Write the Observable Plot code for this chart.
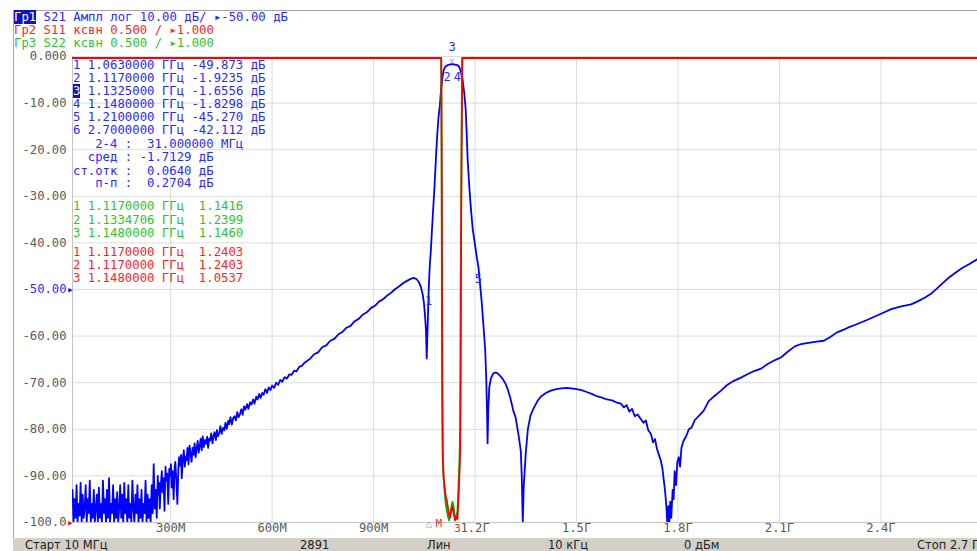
<!DOCTYPE html>
<html><head><meta charset="utf-8">
<script src="https://cdn.jsdelivr.net/npm/d3@7"></script>
<script src="https://cdn.jsdelivr.net/npm/@observablehq/plot@0.6"></script>
<style>
html,body{margin:0;padding:0;background:#fff;overflow:hidden;width:977px;height:551px}
#wrap{position:relative;width:977px;height:551px;overflow:hidden}
#wrap svg{position:absolute;left:0;top:0}
.mono{font-family:"DejaVu Sans Mono",monospace;font-size:12.3px;white-space:pre;position:absolute;line-height:14px;height:14px}
.hl{background:#1010c8;color:#fff}
#status{position:absolute;left:13px;top:538px;width:964px;height:13px;background:#d4d0c8;font-family:"DejaVu Sans",sans-serif;font-size:11.5px;color:#222}
#status span{position:absolute;top:0;line-height:14px;white-space:pre}
#frameL{position:absolute;left:13px;top:10px;width:1px;height:528px;background:#a8a8a8}
#frameT{position:absolute;left:13px;top:10px;width:964px;height:1px;background:#a8a8a8}
</style></head><body><div id="wrap"><div id="frameL"></div><div id="frameT"></div></div>
<script>
// ---- axis ticks ----
const xTicks = [300, 600, 900, 1200, 1500, 1800, 2100, 2400];
const xTickLabels = ["300М", "600М", "900М", "1.2Г", "1.5Г", "1.8Г", "2.1Г", "2.4Г"];
const yTicks = [0, -10, -20, -30, -40, -50, -60, -70, -80, -90, -100];
const yTickLabels = ["0.000", "-10.00", "-20.00", "-30.00", "-40.00", "-50.00", "-60.00", "-70.00", "-80.00", "-90.00", "-100.0"];

// ---- S21, [MHz, dB] ----
const s21 = [
[10,-93],[13,-100],[16,-95],[19,-99],[22,-92],[25,-100],[28,-96],[31,-98.5],[34,-91.5],[37,-100],[40,-94],[43,-99],[46,-97],[49,-92],[52,-100],[55,-95],[58,-98],[61,-91],[64,-100],[67,-96],[70,-99],[73,-93],[76,-100],[79,-97],[82,-94],[85,-100],[88,-92.5],[91,-99],[94,-96],[97,-100],[100,-91],[103,-98],[106,-95],[109,-100],[112,-93],[115,-99],[118,-90.5],[121,-100],[124,-96],[127,-98],[130,-92],[133,-100],[136,-95],[139,-99],[142,-93.5],[145,-100],[148,-97],[151,-92],[154,-99],[157,-94],[160,-100],[163,-91.5],[166,-98],[169,-95],[172,-100],[175,-92],[178,-99],[181,-96],[184,-100],[187,-91],[190,-97],[193,-100],[196,-94],[199,-98],[202,-92],[205,-100],[208,-95],[211,-99],[214,-93],[217,-100],[220,-96],[223,-98],[226,-91],[229,-100],[232,-94],[235,-99],[238,-95],[241,-100],[244,-92],[247,-98],
[250,-87.5],[253,-97],[256,-93],[259,-99],[262,-90],[264,-94],[266,-91.5],[268,-97],[271,-92],[274,-89],[276,-93.5],[279,-90.5],[282,-97.5],[285,-88],[287,-91],[290,-89.5],[293,-96],[296,-88.5],[298,-90],[301,-87.5],[303,-92.5],[306,-89],[309,-95],[312,-88],[314,-87],[317,-91],[320,-96],[323,-88.5],[325,-86],[328,-87.8],[331,-85.5],[333,-90.5],[336,-86.5],[339,-84.5],[342,-88],[345,-85.8],[347,-86.6],[350,-84],[353,-87.5],[356,-83.5],[359,-85.2],[362,-87],[365,-84],[368,-85.5],[371,-83],[374,-86],[377,-84.2],[380,-82.5],[383,-85],[386,-83.6],[389,-82],[392,-84.5],[395,-81.5],[398,-83.8],
[402,-82.3],[405,-83.1],[408,-81.6],[411,-84],[414,-82],[417,-82.4],[420,-80.9],[424,-83],[427,-81.4],[430,-80.6],[434,-82.3],[437,-80.2],[440,-81.5],[444,-80.8],[447,-79.3],[451,-81],[455,-79.7],[459,-80.2],[462,-78.6],[466,-79.9],[470,-78.2],[473,-78.9],[477,-77.4],[481,-79],[485,-77.6],[489,-77.2],[493,-78.1],[497,-76.3],[501,-77.4],[505,-76.8],[509,-75.7],[513,-76.9],[517,-75.1],[521,-75.8],[526,-74.6],[530,-75.6],[535,-74.2],[539,-74.7],[544,-73.6],[548,-74.5],[553,-73],[557,-73.6],[562,-72.4],[566,-73.3],[571,-72.2],[575,-72.6],[580,-71.4],[585,-72.2],[590,-71],[595,-71.6],[600,-70.6],[606,-71.1],[612,-70],[618,-70.5],[624,-69.4],[630,-69.8],[637,-68.8],[644,-69.1],[651,-68.2],[658,-68.3],[665,-67.4],[672,-67.6],[680,-66.6],[688,-66.4],[696,-65.7],[704,-65.3],[712,-64.9],[724,-63.9],[736,-63.5],[748,-62.4],[760,-62],[772,-61],[784,-60.6],[796,-59.6],[808,-59.1],[820,-58.2],[832,-57.8],[844,-56.8],[856,-56.3],[868,-55.4],[880,-54.9],[892,-54],[904,-53.5],[916,-52.6],[928,-52.1],[940,-51.3],[952,-50.7],[964,-49.9],[976,-49.3],[988,-48.6],[1000,-48.1],[1010,-47.7],[1018,-47.5],[1026,-47.7],[1034,-48.4],[1040,-49.5],[1045,-51],[1049,-53],[1052,-55.5],[1055,-59],[1057,-64.8],[1059,-60],[1061,-55],[1063,-49.873],[1066,-45],[1069,-42],[1072,-38],[1076,-33],[1080,-28],[1084,-22.3],[1088,-17],[1092,-13],[1096,-10.5],[1099,-7.5],[1103,-4.8],[1107,-3],[1112,-2.2],[1117,-1.9235],[1125,-1.72],[1132.5,-1.6556],[1140,-1.72],[1148,-1.8298],[1153,-2.2],[1158,-3.2],[1163,-5],[1168,-7.8],[1172,-11],[1175,-16],[1178,-22],[1183,-28],[1187,-32],[1193,-37],[1200,-40.5],[1205,-43],[1210,-45.27],[1215,-49],[1220,-53],[1225,-58],[1230,-63],[1233,-69],[1235,-75],[1237,-83],[1239,-76],[1242,-71],[1247,-69],[1254,-68],[1262,-67.8],[1270,-68.2],[1280,-69],[1290,-70.2],[1297,-71.5],[1305,-73.5],[1313,-76],[1320,-77.5],[1328,-81],[1335,-84.5],[1338,-90],[1341,-100],[1344,-92],[1350,-85],[1356,-80],[1364,-77],[1373,-75.5],[1384,-74],[1394,-73],[1409,-72.2],[1424,-71.7],[1440,-71.4],[1455,-71.2],[1470,-71.1],[1485,-71.2],[1500,-71.4],[1515,-71.6],[1530,-72],[1545,-72.4],[1560,-72.9],[1575,-73.2],[1590,-73.6],[1605,-73.8],[1620,-74.3],[1631,-74.5],[1640,-75.3],[1648,-74.8],[1656,-76.2],[1664,-75.6],[1672,-77.2],[1680,-76.8],[1690,-77.8],[1698,-78.6],[1705,-78.1],[1712,-80.2],[1720,-81],[1726,-82.8],[1732,-82.1],[1738,-84.3],[1744,-85.6],[1749,-86.7],[1754,-88.5],[1758,-91],[1762,-93.5],[1766,-97],[1768,-100],[1771,-96.5],[1774,-100],[1777,-95.5],[1780,-99],[1784,-93],[1787,-95],[1790,-89],[1794,-92],[1798,-87],[1802,-86],[1806,-88],[1810,-84],[1816,-82.5],[1824,-81.5],[1832,-80],[1840,-79.6],[1850,-78],[1860,-77.2],[1876,-76],[1890,-74],[1905,-73],[1927,-71.7],[1945,-70.5],[1965,-69.6],[1986,-68.9],[2005,-68.2],[2025,-67.5],[2045,-67],[2065,-66],[2085,-65.2],[2104,-64.6],[2125,-63.3],[2145,-62.2],[2160,-61.8],[2172,-61.6],[2190,-61.4],[2210,-61.2],[2231,-61],[2250,-60.2],[2270,-59.2],[2290,-58.6],[2302,-58.2],[2330,-57.4],[2360,-56.5],[2400,-55.2],[2430,-54.2],[2460,-53.6],[2489,-53.2],[2510,-52.5],[2530,-51.7],[2548,-50.9],[2565,-49.8],[2580,-48.8],[2598,-47.6],[2620,-46.4],[2640,-45.4],[2660,-44.6],[2687,-43.4],[2700,-42.112]
];

// ---- S11 and S22, [MHz, VSWR] ----
const s11 = [[10,30],[500,40],[1000,25],[1090,12],[1098,7.5],[1100,6.5],[1101.5,5.0],[1102.5,3.5],[1103.5,2.3],[1104.5,1.7],[1107,1.5],[1111,1.36],[1114,1.29],[1117,1.2403],[1120,1.17],[1123,1.1],[1126,1.07],[1129,1.12],[1132,1.19],[1135,1.16],[1138,1.09],[1141,1.04],[1144,1.07],[1146,1.09],[1148,1.0537],[1150,1.2],[1152,1.38],[1154,1.55],[1156,1.75],[1157.3,2.6],[1158,3.6],[1159.5,4.6],[1161,5.4],[1162.5,6.1],[1164,7.5],[1170,14],[1300,35],[2700,40]];
const s22 = [[10,30],[1000,25],[1090,10],[1097,7],[1100,6.1],[1101,4.8],[1102,3.4],[1103,2.3],[1104.5,1.75],[1107,1.5],[1110,1.35],[1113,1.22],[1117,1.1416],[1120,1.08],[1123,1.04],[1126,1.08],[1129,1.16],[1131,1.21],[1133.47,1.2399],[1136,1.2],[1139,1.12],[1142,1.05],[1145,1.08],[1148,1.146],[1150,1.3],[1152,1.5],[1154,1.7],[1156,2.0],[1157,2.8],[1158,3.8],[1159.5,4.8],[1161,5.6],[1162,6.1],[1164,8],[1170,14],[1300,30],[2700,35]];
const vswrRef = 1.0, vswrPerDiv = 0.5, dbPerDiv = 10, dbBottom = -100;

// ---- S21 markers ----
const s21Markers = [
  {n:"1", f:1063, v:-49.873},
  {n:"2", f:1117, v:-1.9235},
  {n:"3", f:1132.5, v:-1.6556},
  {n:"4", f:1148, v:-1.8298},
  {n:"5", f:1210, v:-45.27}
];

// ---- texts ----
const headerIds = ["Гр1", "Гр2", "Гр3"];
const headerTexts = [" S21 Ампл лог 10.00 дБ/ ▸-50.00 дБ", " S11 ксвн 0.500 / ▸1.000", " S22 ксвн 0.500 / ▸1.000"];
const blueRows = ["1 1.0630000 ГГц -49.873 дБ", "2 1.1170000 ГГц -1.9235 дБ", "3 1.1325000 ГГц -1.6556 дБ", "4 1.1480000 ГГц -1.8298 дБ", "5 1.2100000 ГГц -45.270 дБ", "6 2.7000000 ГГц -42.112 дБ"];
const statRows = ["   2-4 :  31.000000 МГц", "  сред : -1.7129 дБ", "ст.отк :  0.0640 дБ", "   п-п :  0.2704 дБ"];
const greenRows = ["1 1.1170000 ГГц  1.1416", "2 1.1334706 ГГц  1.2399", "3 1.1480000 ГГц  1.1460"];
const redRows = ["1 1.1170000 ГГц  1.2403", "2 1.1170000 ГГц  1.2403", "3 1.1480000 ГГц  1.0537"];
const statusTexts = ["Старт 10 МГц", "2891", "Лин", "10 кГц", "0 дБм", "Стоп 2.7 ГГц"];

// ---- colours ----
const C = {blue:"#0000ff", red:"#ff0000", green:"#00b400", tBlue:"#2a2aff", tRed:"#ff2424", tGreen:"#2ec42e", grid:"#dcdcdc", label:"#5a5a5a"};

const vswrPos = v => Math.max(dbBottom, Math.min(0, dbBottom + (v - vswrRef) / vswrPerDiv * dbPerDiv));
const s21Data = s21.map(([f, v]) => ({f, v}));
const s11Data = s11.map(([f, v]) => ({f, v: vswrPos(v)}));
const s22Data = s22.map(([f, v]) => ({f, v: vswrPos(v)}));

const mono = "DejaVu Sans Mono";
const above = s21Markers.filter(d => d.n === "3");
const below = s21Markers.filter(d => d.n !== "3");
const chart = Plot.plot({
  width: 977, height: 551,
  marginLeft: 72, marginRight: 0, marginTop: 56, marginBottom: 29,
  x: {domain: [10, 2700], range: [72, 982], axis: null},
  y: {domain: [-100, 0], range: [522, 56], axis: null},
  style: {background: "transparent", overflow: "hidden"},
  marks: [
    Plot.ruleX(xTicks, {x: d => d, stroke: C.grid, strokeWidth: 1}),
    Plot.ruleY(yTicks, {y: d => d, stroke: C.grid, strokeWidth: 1}),
    Plot.ruleX([10], {x: d => d, stroke: "#c4c4c4"}),
    Plot.ruleY([-100], {y: d => d, stroke: "#c4c4c4"}),
    Plot.line(s21Data, {x: "f", y: "v", stroke: C.blue, strokeWidth: 1.8, clip: true}),
    Plot.line(s22Data, {x: "f", y: "v", stroke: C.green, strokeWidth: 1.8, clip: true, dy: 1.5}),
    Plot.line(s11Data, {x: "f", y: "v", stroke: C.red, strokeWidth: 1.8, clip: true, dy: 1.5}),
    Plot.text(yTicks, {y: d => d, frameAnchor: "left", dx: -6, textAnchor: "end", text: (d, i) => yTickLabels[i],
      fill: d => d === -50 ? C.tBlue : C.label, fontFamily: mono, fontSize: 12.2}),
    Plot.text([-50, -100], {y: d => d, frameAnchor: "left", dx: 1, textAnchor: "end", text: () => "▸",
      fill: d => d === -50 ? C.blue : C.red, fontFamily: mono, fontSize: 11}),
    Plot.text(xTicks, {x: d => d, frameAnchor: "bottom", dy: 9, text: (d, i) => xTickLabels[i], fill: C.label, fontFamily: mono, fontSize: 12.2}),
    Plot.text(above, {x: "f", y: "v", text: "n", dy: -17, fill: C.tBlue, fontFamily: mono, fontSize: 12}),
    Plot.text(above, {x: "f", y: "v", text: () => "▿", dy: -3, fill: C.tBlue, fontSize: 7}),
    Plot.text(below, {x: "f", y: "v", text: "n", dy: 12, fill: C.tBlue, fontFamily: mono, fontSize: 12}),
    Plot.text([{f:1063, t:"△", c:"#9a9aff"}, {f:1093, t:"M", c:C.tRed}], {x: "f", frameAnchor: "bottom", dy: 4, text: "t", fill: "c", fontFamily: mono, fontSize: 11}),
    Plot.text([{f:1148, t:"3", c:C.tRed}], {x: "f", frameAnchor: "bottom", dy: 9, text: "t", fill: "c", fontFamily: mono, fontSize: 11})
  ]
});
const wrap = document.getElementById("wrap");
wrap.appendChild(chart);

function addLine(txt, x, yc, color, hlFirst) {
  const d = document.createElement("div");
  d.className = "mono";
  d.style.left = x + "px";
  d.style.top = (yc - 7) + "px";
  d.style.color = color;
  if (hlFirst) {
    const s = document.createElement("span");
    s.className = "hl";
    s.textContent = txt.slice(0, hlFirst);
    d.appendChild(s);
    d.appendChild(document.createTextNode(txt.slice(hlFirst)));
  } else d.textContent = txt;
  wrap.appendChild(d);
}
// header
const hColors = [C.tBlue, C.tRed, C.tGreen];
const hY = [16.5, 29.5, 42.5];
headerIds.forEach((id, i) => addLine(id + headerTexts[i], 14, hY[i], hColors[i], i === 0 ? 3 : 0));
// marker table
const blueY = [65, 78, 91, 104, 117, 130];
blueRows.forEach((t, i) => addLine(t, 73, blueY[i], C.tBlue, i === 2 ? 1 : 0));
const statY = [144, 157, 170.5, 183];
statRows.forEach((t, i) => addLine(t, 73, statY[i], C.tBlue, 0));
const greenY = [206, 219.5, 233];
greenRows.forEach((t, i) => addLine(t, 73, greenY[i], C.tGreen, 0));
const redY = [251.5, 265, 278];
redRows.forEach((t, i) => addLine(t, 73, redY[i], C.tRed, 0));
// status bar
const st = document.createElement("div");
st.id = "status";
const stX = [12, 287, 414, 535, 671, 904];
statusTexts.forEach((t, i) => {
  const s = document.createElement("span");
  s.textContent = t; s.style.left = stX[i] + "px";
  st.appendChild(s);
});
wrap.appendChild(st);
</script></body></html>
